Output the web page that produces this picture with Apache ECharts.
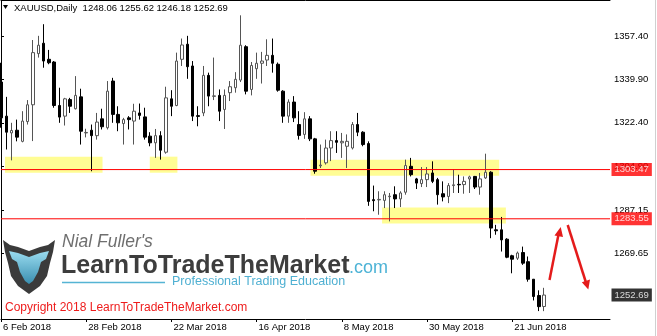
<!DOCTYPE html>
<html>
<head>
<meta charset="utf-8">
<script src="https://cdn.jsdelivr.net/npm/echarts@6/dist/echarts.min.js"></script>
<style>
html,body{margin:0;padding:0;background:#fff;}
#chart{width:657px;height:336px;}
</style>
</head>
<body>
<div id="chart"></div>
<script>
// ---- data (bar index 0 = 6 Feb 2018, daily bars) ----
const opens = [1338.9,1325.1,1318.3,1319.4,1314.9,1322.9,1329.7,1350.4,1354.6,1348.1,
1347.0,1329.4,1325.1,1331.8,1328.1,1332.9,1318.3,1319.4,1317.2,1324.0,
1320.4,1339.3,1325.8,1322.1,1324.4,1323.1,1326.4,1324.8,1317.0,1314.3,
1317.2,1310.5,1332.1,1329.4,1348.1,1354.2,1345.4,1325.3,1326.4,1341.6,
1333.1,1333.5,1327.8,1334.6,1336.6,1339.7,1353.2,1335.9,1344.3,1346.5,
1347.8,1349.7,1346.1,1335.2,1325.1,1330.8,1321.7,1317.7,1324.0,1315.9,
1305.0,1306.2,1312.2,1315.2,1314.3,1312.9,1312.2,1321.7,1318.6,1314.0,
1291.3,1291.2,1291.0,1292.5,1293.3,1291.6,1294.3,1304.8,1299.7,1297.8,
1299.4,1302.1,1299.4,1293.7,1292.6,1297.0,1297.5,1297.4,1299.7,1300.7,
1296.4,1300.1,1302.4,1279.1,1279.1,1275.3,1268.6,1267.6,1269.9,1266.2,
1259.1,1252.5,1248.06];
const highs = [1346.7,1332.9,1322.4,1323.7,1327.1,1331.6,1355.9,1357.6,1362.3,1351.9,
1347.4,1336.6,1332.5,1332.5,1341.3,1336.2,1320.0,1321.7,1326.4,1328.1,
1339.3,1340.6,1329.1,1324.4,1325.1,1330.1,1330.2,1328.5,1318.6,1319.9,
1319.0,1337.0,1335.6,1350.8,1356.5,1357.6,1347.4,1329.1,1345.4,1342.7,
1348.8,1335.9,1335.9,1339.3,1342.9,1365.9,1353.8,1347.0,1350.8,1351.1,
1356.2,1356.5,1346.8,1335.6,1331.9,1333.2,1327.1,1326.7,1325.1,1316.3,
1313.6,1315.6,1319.0,1319.0,1318.3,1317.7,1322.7,1326.4,1319.0,1314.9,
1297.0,1294.7,1294.7,1294.0,1296.7,1294.7,1307.5,1308.2,1300.1,1304.5,
1304.5,1306.8,1300.1,1298.7,1298.0,1303.5,1301.4,1300.7,1301.0,1300.9,
1302.1,1309.9,1302.8,1281.1,1284.3,1275.7,1269.0,1270.3,1272.3,1268.3,
1259.1,1254.6,1255.62];
const lows = [1320.4,1311.6,1307.2,1314.9,1314.5,1321.7,1315.0,1348.8,1344.7,1346.1,
1328.5,1322.4,1321.3,1326.4,1327.8,1313.6,1316.5,1302.8,1315.6,1319.7,
1319.7,1322.4,1319.0,1313.6,1319.7,1313.6,1323.7,1315.6,1312.9,1308.2,
1307.5,1309.9,1325.1,1329.1,1345.4,1340.2,1323.1,1321.0,1325.1,1329.1,
1331.6,1323.1,1319.9,1331.2,1334.6,1338.9,1333.9,1333.5,1340.2,1338.3,
1345.4,1342.7,1335.0,1322.4,1322.4,1322.7,1315.6,1315.9,1315.0,1301.8,
1304.1,1305.5,1306.9,1310.2,1308.2,1304.1,1311.6,1317.0,1312.9,1288.8,
1286.6,1285.2,1287.9,1282.5,1287.9,1288.3,1293.3,1300.7,1295.6,1296.4,
1296.4,1298.0,1289.3,1290.6,1289.9,1294.0,1294.0,1293.7,1294.0,1295.6,
1293.3,1299.7,1275.7,1277.1,1270.3,1267.6,1261.5,1266.9,1264.9,1258.1,
1250.5,1246.2,1246.18];
const closes = [1324.4,1318.6,1319.3,1316.6,1323.1,1329.7,1350.8,1353.8,1347.4,1346.7,
1329.4,1324.7,1332.1,1329.1,1333.5,1319.0,1318.5,1317.2,1322.7,1320.8,
1335.2,1325.8,1322.4,1323.7,1323.7,1327.1,1325.4,1316.6,1314.3,1317.2,
1311.3,1332.5,1329.1,1347.4,1353.9,1345.1,1325.1,1325.0,1341.6,1333.2,
1333.3,1327.1,1333.5,1337.0,1340.0,1353.8,1335.2,1345.6,1346.5,1347.4,
1349.7,1346.5,1335.6,1325.1,1330.8,1324.4,1317.3,1324.0,1315.9,1302.8,
1305.3,1312.2,1315.2,1314.5,1314.9,1314.9,1321.7,1318.6,1313.6,1290.6,
1290.9,1291.4,1293.3,1292.7,1291.6,1294.0,1305.1,1301.4,1298.0,1299.4,
1301.7,1298.7,1293.3,1292.4,1297.0,1297.3,1297.3,1298.7,1300.5,1296.4,
1299.7,1302.4,1279.8,1278.7,1275.0,1268.0,1267.2,1269.7,1265.6,1259.1,
1252.1,1248.0,1252.69];

const dateTickBars = [0,16,32,48,64,80,96];
const dateTickLabels = ['6 Feb 2018','28 Feb 2018','22 Mar 2018','16 Apr 2018','8 May 2018','30 May 2018','21 Jun 2018'];
const priceTicks = [1357.40,1339.90,1322.40,1304.90,1287.15,1269.65];
const levelLines = [1303.47,1283.55];
const lastPrice = 1252.69;
const headerText = 'XAUUSD,Daily  1248.06 1255.62 1246.18 1252.69';
// zones: [firstBar, lastBar, lowPrice, highPrice]
const zones = [[0.75,19.07,1302.2,1308.7],[27.94,33.13,1302.2,1308.7],[58.13,93.56,1301.0,1307.4],[71.57,94.82,1281.6,1288.1]];

const X_MAX = 114.375;
const candleRows = opens.map((o,i)=>[i,o,closes[i],lows[i],highs[i]]);

const FONT = 'Liberation Sans';
const chart = echarts.init(document.getElementById('chart'), null, {renderer:'canvas'});

const badge = (v,bg)=>({
  type:'scatter', z:6, silent:true, symbolSize:1, animation:false,
  itemStyle:{color:'rgba(0,0,0,0)'},
  data:[[X_MAX,v]],
  label:{show:true,position:'right',distance:1,formatter:v.toFixed(2),color:'#fff',backgroundColor:bg,
    padding:[2,3,1,3],fontFamily:FONT,fontSize:9.5}
});

const levelSeries = levelLines.map(v=>({
  type:'line', z:3, silent:true, symbol:'none', showSymbol:false, animation:false,
  data:[[0,v],[X_MAX,v]],
  lineStyle:{color:'#ff0000',width:1,type:'solid'},
  itemStyle:{color:'#ff0000'}
}));

const option = {
  animation:false,
  backgroundColor:'#ffffff',
  grid:{left:0,right:47,top:0,bottom:17,show:false},
  xAxis:[{
    type:'value', position:'bottom', min:0, max:X_MAX,
    axisLine:{show:true,lineStyle:{color:'#000',width:1}},
    axisTick:{show:true,length:3,customValues:dateTickBars,lineStyle:{color:'#000'}},
    axisLabel:{show:true,customValues:dateTickBars,align:'left',margin:3,padding:[0,0,0,2],
      color:'#000',fontFamily:FONT,fontSize:9.5,
      formatter:(v)=>{const k=dateTickBars.indexOf(Math.round(v));return k>=0?dateTickLabels[k]:'';}},
    splitLine:{show:false}
  },{
    type:'value', position:'top', min:0, max:X_MAX,
    axisLine:{show:true,lineStyle:{color:'#000',width:1}},
    axisTick:{show:false}, axisLabel:{show:false}, splitLine:{show:false}
  }],
  yAxis:{
    type:'value', position:'right', min:1243.0, max:1372.1,
    axisLine:{show:true,lineStyle:{color:'#000',width:1}},
    axisTick:{show:true,length:3,customValues:priceTicks,lineStyle:{color:'#000'}},
    axisLabel:{show:true,customValues:priceTicks,margin:4,color:'#000',fontFamily:FONT,fontSize:9.5,
      formatter:(v)=>v.toFixed(2)},
    splitLine:{show:false}
  },
  series:[{
    type:'candlestick', xAxisIndex:0, z:2,
    data:candleRows,
    encode:{x:0,y:[1,2,3,4]},
    barWidth:3,
    itemStyle:{color:'#ffffff',color0:'#000000',borderColor:'#555555',borderColor0:'#000000',borderWidth:1}
  }].concat(levelSeries).concat([
    badge(levelLines[0],'#ff0000'),
    badge(levelLines[1],'#ff0000'),
    badge(lastPrice,'#000000'),
  {
    type:'scatter', data:[], z:4, silent:true,
    markArea:{silent:true,itemStyle:{color:'rgba(255,250,0,0.42)'},
      data:zones.map(z=>[{xAxis:z[0],yAxis:z[3]},{xAxis:z[1],yAxis:z[2]}])}
  }]),
  graphic:[
    {type:'polygon',shape:{points:[[3,5],[8,5],[5.5,9]]},style:{fill:'#000'}},
    {type:'text',style:{text:headerText,x:14,y:8,verticalAlign:'middle',font:'9.5px "Liberation Sans"',fill:'#000'}},
    {type:'line',shape:{x1:655.5,y1:0,x2:655.5,y2:336},style:{stroke:'#d0d0d0',lineWidth:1}},
    // logo shield
    {type:'polygon',shape:{points:[[3,240],[10,245],[18,247],[29,251],[40,247],[48,245],[55,240],[53,252],[50,263],[47,276],[40,286],[29,294],[18,286],[11,276],[8,263],[5,252]]},
      style:{fill:'#3b3b3b'}},
    {type:'polygon',shape:{points:[[9,251],[18,253],[29,257],[40,253],[49,251],[46,259],[41,262],[38,272],[33,281],[29,284],[25,281],[20,272],[17,262],[12,259]]},
      style:{fill:{type:'linear',x:0,y:0,x2:0,y2:1,colorStops:[{offset:0,color:'#9adcf0'},{offset:1,color:'#3a8fb0'}]}}},
    {type:'text',style:{text:"Nial Fuller's",x:62,y:242,verticalAlign:'middle',font:'italic 17.5px "Liberation Sans"',fill:'#6f6f6f'}},
    {type:'text',style:{text:'LearnToTradeTheMarket',x:61,y:279,verticalAlign:'bottom',font:'bold 25px "Liberation Sans"',fill:'#3d3d3d'}},
    {type:'text',style:{text:'.com',x:349,y:277.5,verticalAlign:'bottom',font:'18px "Liberation Sans"',fill:'#4db3d6'}},
    {type:'line',shape:{x1:62,y1:282.5,x2:165,y2:282.5},style:{stroke:'#55b4d4',lineWidth:1.5}},
    {type:'text',style:{text:'Professional Trading Education',x:172,y:282,verticalAlign:'middle',font:'12.5px "Liberation Sans"',fill:'#4fb0d2'}},
    {type:'text',style:{text:'Copyright 2018 LearnToTradeTheMarket.com',x:5,y:307.5,verticalAlign:'middle',font:'12px "Liberation Sans"',fill:'#ee1c1c'}},
    // arrows
    {type:'line',shape:{x1:549.5,y1:280,x2:558.6,y2:234},style:{stroke:'#e41b1b',lineWidth:2.5}},
    {type:'polygon',shape:{points:[[560.7,227],[563,237],[554.5,235.5]]},style:{fill:'#e41b1b'}},
    {type:'line',shape:{x1:567.7,y1:225,x2:585.8,y2:282},style:{stroke:'#e41b1b',lineWidth:2.5}},
    {type:'polygon',shape:{points:[[588.3,289.5],[590,279.5],[581.8,282.3]]},style:{fill:'#e41b1b'}}
  ]
};
chart.setOption(option);
</script>
</body>
</html>
